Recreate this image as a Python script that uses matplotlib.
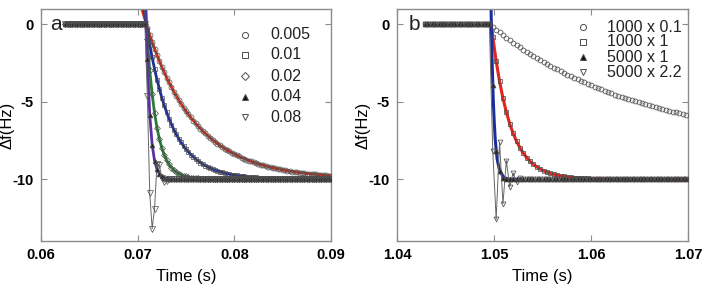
import numpy as np
import matplotlib
matplotlib.use('Agg')
import matplotlib.pyplot as plt

plt.rcParams['font.family'] = ['Liberation Sans', 'DejaVu Sans']

# ---- panel a: sampling grid and step ----
t_a_start = 0.0625
t_a_step = 0.00025
n_a_flat = 34            # samples before the step (0 Hz)
step_a = 0.0709

labels_a = ['0.005', '0.01', '0.02', '0.04', '0.08']

decay_a_005 = [-0.20, -0.68, -1.13, -1.56, -1.97, -2.37, -2.74, -3.09, -3.43, -3.75,
               -4.05, -4.35, -4.62, -4.88, -5.13, -5.37, -5.60, -5.81, -6.01, -6.21,
               -6.39, -6.57, -6.74, -6.90, -7.05, -7.19, -7.33, -7.46, -7.58, -7.70,
               -7.81, -7.92, -8.02, -8.12, -8.21, -8.30, -8.38, -8.46, -8.53, -8.61,
               -8.67, -8.74, -8.80, -8.86, -8.91, -8.97, -9.02, -9.07, -9.11, -9.15,
               -9.20, -9.23, -9.27, -9.31, -9.34, -9.37, -9.40, -9.43, -9.46, -9.49,
               -9.51, -9.54, -9.56, -9.58, -9.60, -9.62, -9.64, -9.66, -9.67, -9.69,
               -9.70, -9.72, -9.73, -9.75, -9.76, -9.77, -9.78]
decay_a_01 = [-0.39, -1.31, -2.13, -2.88, -3.56, -4.17, -4.73, -5.23, -5.68, -6.09,
              -6.47, -6.80, -7.11, -7.38, -7.63, -7.86, -8.06, -8.24, -8.41, -8.56,
              -8.70, -8.82, -8.94, -9.04, -9.13, -9.21, -9.29, -9.35, -9.42, -9.47,
              -9.52, -9.57, -9.61, -9.65, -9.68, -9.71, -9.74, -9.76, -9.78, -9.81,
              -9.82, -9.84, -9.86, -9.87, -9.88, -9.89, -9.90, -9.91, -9.92, -9.93,
              -9.94, -9.95, -9.96, -9.97, -9.98, -9.99] + [-10.0] * 21
decay_a_02 = [-0.95, -2.95, -4.51, -5.73, -6.67, -7.41, -7.98, -8.43, -8.78, -9.05,
              -9.26, -9.42, -9.55, -9.65, -9.73, -9.79, -9.83, -9.87, -9.90, -9.92,
              -9.94, -9.95, -9.96, -9.97, -9.98, -9.99] + [-10.0] * 51
decay_a_04 = [-2.21, -5.83, -7.77, -8.81, -9.36, -9.66, -9.82, -9.90, -9.95,
              -9.97, -9.98, -9.99] + [-10.0] * 65
decay_a_08 = [-4.6, -10.9, -13.2, -11.9, -9.0, -9.1, -9.9, -10.2, -10.1] + [-10.0] * 68

# fit curves start a little before the step (they run off the top)
fit_pre_t_a = [0.0703, 0.0706, 0.0707, 0.0708]
fit_pre_v_a = [1.3, 1.3, 2.2, 2.8]

# ---- panel b ----
t_b_start = 1.04285
t_b_step = 0.00035
n_b_flat = 20
step_b = 1.0497

labels_b = ['1000 x 0.1', '1000 x 1', '5000 x 1', '5000 x 2.2']

decay_b_c = [-0.18, -0.35, -0.52, -0.69, -0.85, -1.01, -1.17, -1.32, -1.47, -1.62,
             -1.76, -1.90, -2.04, -2.17, -2.30, -2.43, -2.55, -2.67, -2.79, -2.91,
             -3.02, -3.13, -3.24, -3.35, -3.45, -3.55, -3.65, -3.75, -3.84, -3.94,
             -4.03, -4.12, -4.20, -4.29, -4.37, -4.45, -4.53, -4.61, -4.68, -4.76,
             -4.83, -4.90, -4.97, -5.04, -5.10, -5.17, -5.23, -5.29, -5.35, -5.41,
             -5.47, -5.53, -5.58, -5.64, -5.69, -5.74, -5.79, -5.84]
decay_b_s = [-0.78, -2.37, -3.68, -4.77, -5.67, -6.42, -7.04, -7.55, -7.97, -8.32,
             -8.61, -8.85, -9.05, -9.21, -9.35, -9.46, -9.55, -9.63, -9.69, -9.75,
             -9.79, -9.83, -9.86, -9.88, -9.90, -9.92, -9.93, -9.94,
             -9.95, -9.96, -9.97, -9.98, -9.99] + [-10.0] * 25
decay_b_t = [-3.9, -8.2, -9.5, -9.9] + [-10.0] * 54
decay_b_v = [-8.2, -12.6, -7.6, -11.6, -8.8, -10.5, -9.6, -10.2, -9.9] + [-10.0] * 49

fit_b_blue_t = [1.0496, 1.0497, 1.0498, 1.0499, 1.0500, 1.0501, 1.0502, 1.0503,
                1.0505, 1.0507, 1.0510, 1.0515, 1.0525]
fit_b_blue_v = [4.0, 0.0, -2.8, -4.9, -6.3, -7.4, -8.1, -8.7, -9.3, -9.6, -9.9, -10.0, -10.0]

EDGE = '#4d4d4d'
SPINE = '#8c8c8c'


def full_series(n_flat, decay):
    return np.array([0.0] * n_flat + decay)


def style_axes(ax, xlim, xticks):
    ax.set_xlim(*xlim)
    ax.set_ylim(-14, 1)
    ax.set_xticks(xticks)
    ax.set_xticklabels(['%g' % x for x in xticks], fontweight='bold', fontsize=10.5)
    ax.set_yticks([0, -5, -10])
    ax.set_yticklabels(['0', '-5', '-10'], fontweight='bold', fontsize=10.5)
    ax.tick_params(direction='in', top=True, right=True, length=4, width=0.8,
                   color=SPINE)
    ax.tick_params(axis='x', pad=5)
    ax.tick_params(axis='y', pad=5.5)
    for s in ax.spines.values():
        s.set_color(SPINE)
        s.set_linewidth(1.0)
    ax.set_xlabel('Time (s)', fontsize=12)
    ax.set_ylabel('\u0394f(Hz)', fontsize=12)
    ax.xaxis.set_label_coords(0.5, -0.12)


def manual_legend(ax, x_m, x_t, ys, markers, labels, ms):
    for (m, filled), y, lab in zip(markers, ys, labels):
        ax.plot([x_m], [y], marker=m, ls='none', ms=ms, mew=0.7, mec=EDGE,
                mfc='#111111' if filled else 'none', transform=ax.transAxes,
                clip_on=False)
        ax.text(x_t, y, lab, transform=ax.transAxes, va='center', ha='left',
                fontsize=11.5, color='#222222')


fig = plt.figure(figsize=(7.03, 2.88), dpi=100)
ax_a = fig.add_axes([0.0583, 0.1632, 0.4125, 0.8056])
ax_b = fig.add_axes([0.5652, 0.1632, 0.4135, 0.8056])

# ---------------- panel a ----------------
series_a = [decay_a_005, decay_a_01, decay_a_02, decay_a_04, decay_a_08]
n_a = n_a_flat + len(decay_a_005)
t_a = t_a_start + t_a_step * np.arange(n_a)
fit_colors_a = ['#c8321f', '#1f2d96', '#2c7a3a', '#5a31a3']
markers_a = [('o', False), ('s', False), ('D', False), ('^', True), ('v', False)]
ms_a = [3.6, 3.4, 3.0, 3.4, 3.8]

for i, dec in enumerate(series_a[:4]):
    y = full_series(n_a_flat, dec)
    ft = np.concatenate([[fit_pre_t_a[i], step_a], t_a[n_a_flat:]])
    fv = np.concatenate([[fit_pre_v_a[i], 0.0], y[n_a_flat:]])
    ax_a.plot(ft, fv, color=fit_colors_a[i], lw=2.0, zorder=2)

y08 = full_series(n_a_flat, decay_a_08)
ax_a.plot(t_a, y08, color='#666666', lw=0.7, zorder=2)

for i, dec in enumerate(series_a):
    y = full_series(n_a_flat, dec)
    m, filled = markers_a[i]
    ax_a.plot(t_a, y, ls='none', marker=m, ms=ms_a[i], mew=0.5, mec=EDGE,
              mfc='#222222' if filled else 'none', zorder=3)

style_axes(ax_a, (0.06, 0.09), [0.06, 0.07, 0.08, 0.09])
ax_a.yaxis.set_label_coords(-0.09, 0.5)
ax_a.text(0.03, 0, 'a', transform=ax_a.get_yaxis_transform(), fontsize=15,
          va='center', ha='left', color='#222222')
manual_legend(ax_a, 0.703, 0.79, [0.888, 0.802, 0.711, 0.621, 0.534],
              markers_a, labels_a, 4.4)

# ---------------- panel b ----------------
series_b = [decay_b_c, decay_b_s, decay_b_t, decay_b_v]
n_b = n_b_flat + len(decay_b_c)
t_b = t_b_start + t_b_step * np.arange(n_b)
markers_b = [('o', False), ('s', False), ('^', True), ('v', False)]

ys_b = full_series(n_b_flat, decay_b_s)
ax_b.plot(np.concatenate([[step_b], t_b[n_b_flat:]]),
          np.concatenate([[0.0], ys_b[n_b_flat:]]), color='#e3261d', lw=2.2, zorder=2)
ax_b.plot(fit_b_blue_t, fit_b_blue_v, color='#1b2d9c', lw=2.2, zorder=2)

yv = full_series(n_b_flat, decay_b_v)
ax_b.plot(t_b, yv, color='#666666', lw=0.7, zorder=2)

for i, dec in enumerate(series_b):
    y = full_series(n_b_flat, dec)
    m, filled = markers_b[i]
    ax_b.plot(t_b, y, ls='none', marker=m, ms=3.5, mew=0.55, mec=EDGE,
              mfc='#222222' if filled else 'none', zorder=3)

style_axes(ax_b, (1.04, 1.07), [1.04, 1.05, 1.06, 1.07])
ax_b.yaxis.set_label_coords(-0.094, 0.5)
ax_b.text(0.038, 0, 'b', transform=ax_b.get_yaxis_transform(), fontsize=15,
          va='center', ha='left', color='#222222')
manual_legend(ax_b, 0.639, 0.721, [0.922, 0.858, 0.793, 0.728],
              markers_b, labels_b, 4.4)

fig.savefig('out.png', dpi=100)
